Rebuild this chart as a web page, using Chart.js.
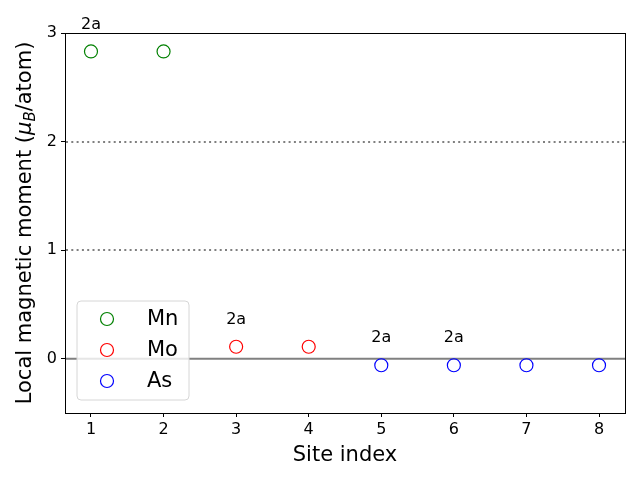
<!DOCTYPE html>
<html>
<head>
<meta charset="utf-8">
<script src="https://cdn.jsdelivr.net/npm/chart.js@4/dist/chart.umd.min.js"></script>
<style>
  html, body { margin: 0; padding: 0; background: #fff; }
  #wrap { width: 640px; height: 480px; }
</style>
</head>
<body>
<div id="wrap"><canvas id="chart" width="640" height="480"></canvas></div>
<script>
// site data
const siteIndex = [1, 2, 3, 4, 5, 6, 7, 8];
const moments = [2.83, 2.83, 0.11, 0.11, -0.06, -0.06, -0.06, -0.06];
const siteLabels = ["2a", "", "2a", "", "2a", "2a", "", ""];
const elements = ["Mn", "Mo", "As"];
const elementSites = [[1, 2], [3, 4], [5, 6, 7, 8]];
const elementColors = ["green", "red", "blue"];
const xTicks = [1, 2, 3, 4, 5, 6, 7, 8];
const yTicks = [0, 1, 2, 3];
const dottedLines = [1, 2];
const zeroLine = [0];

const FONT = "'DejaVu Sans', sans-serif";

const datasets = elements.map((el, i) => ({
  label: el,
  data: elementSites[i].map((s) => ({ x: s, y: moments[siteIndex.indexOf(s)] })),
  borderColor: elementColors[i],
  backgroundColor: "rgba(0,0,0,0)",
  pointRadius: 6.5,
  pointHoverRadius: 6.5,
  pointBorderWidth: 1.2,
  showLine: false,
}));

const extras = {
  id: "extras",
  beforeDatasetsDraw(chart) {
    const { ctx, chartArea: a, scales } = chart;
    ctx.save();
    ctx.strokeStyle = "gray";
    ctx.lineWidth = 2;
    ctx.setLineDash([2, 3.3]);
    dottedLines.forEach((v) => {
      const y = Math.round(scales.y.getPixelForValue(v));
      ctx.beginPath(); ctx.moveTo(a.left + 1, y); ctx.lineTo(a.right, y); ctx.stroke();
    });
    ctx.setLineDash([]);
    ctx.lineWidth = 2;
    zeroLine.forEach((v) => {
      const y = scales.y.getPixelForValue(v);
      ctx.beginPath(); ctx.moveTo(a.left, y); ctx.lineTo(a.right, y); ctx.stroke();
    });
    ctx.restore();
  },
  afterDatasetsDraw(chart) {
    const { ctx, chartArea: a, scales } = chart;
    ctx.save();
    // frame
    ctx.strokeStyle = "#000";
    ctx.lineWidth = 1;
    ctx.strokeRect(Math.round(a.left) + 0.5, Math.round(a.top) + 0.5,
      Math.round(a.right - a.left), Math.round(a.bottom - a.top));

    // site labels
    ctx.fillStyle = "#000";
    ctx.font = "16px " + FONT;
    ctx.textAlign = "center";
    ctx.textBaseline = "middle";
    siteLabels.forEach((t, i) => {
      if (!t) return;
      const x = scales.x.getPixelForValue(siteIndex[i]);
      const y = scales.y.getPixelForValue(moments[i]) - 27;
      ctx.fillText(t, x, y);
    });

    // legend box
    const lx = 77, ly = 301, lw = 112, lh = 99, r = 4;
    ctx.beginPath();
    ctx.moveTo(lx + r, ly);
    ctx.arcTo(lx + lw, ly, lx + lw, ly + lh, r);
    ctx.arcTo(lx + lw, ly + lh, lx, ly + lh, r);
    ctx.arcTo(lx, ly + lh, lx, ly, r);
    ctx.arcTo(lx, ly, lx + lw, ly, r);
    ctx.closePath();
    ctx.fillStyle = "rgba(255,255,255,0.8)";
    ctx.fill();
    ctx.strokeStyle = "#d6d6d6";
    ctx.lineWidth = 1;
    ctx.stroke();
    ctx.font = "21px " + FONT;
    ctx.textAlign = "left";
    elements.forEach((el, i) => {
      const cy = 319 + i * 31;
      ctx.beginPath();
      ctx.arc(107, cy, 6.5, 0, Math.PI * 2);
      ctx.strokeStyle = elementColors[i];
      ctx.lineWidth = 1.2;
      ctx.stroke();
      ctx.fillStyle = "#000";
      ctx.fillText(el, 147, cy + 1);
    });

    // y axis title with subscript
    const cx = 26, cyMid = (a.top + a.bottom) / 2;
    ctx.translate(cx, cyMid);
    ctx.rotate(-Math.PI / 2);
    const parts = [
      { t: "Local magnetic moment (", f: "21px " + FONT, dy: 0 },
      { t: "\u03bc", f: "italic 21px " + FONT, dy: 0 },
      { t: "B", f: "italic 15px " + FONT, dy: 5 },
      { t: "/atom)", f: "21px " + FONT, dy: 0 },
    ];
    let total = 0;
    parts.forEach((p) => { ctx.font = p.f; p.w = ctx.measureText(p.t).width; total += p.w; });
    let x = -total / 2;
    ctx.fillStyle = "#000";
    ctx.textBaseline = "middle";
    parts.forEach((p) => {
      ctx.font = p.f;
      ctx.fillText(p.t, x, p.dy);
      x += p.w;
    });
    ctx.restore();
  },
};

new Chart(document.getElementById("chart"), {
  type: "scatter",
  data: { datasets },
  plugins: [extras],
  options: {
    responsive: false,
    animation: false,
    events: [],
    layout: { padding: { top: 33, right: 15, left: 0, bottom: 0 } },
    plugins: { legend: { display: false }, tooltip: { enabled: false } },
    scales: {
      x: {
        type: "linear",
        min: 0.642,
        max: 8.358,
        afterBuildTicks: (s) => { s.ticks = xTicks.map((v) => ({ value: v })); },
        afterFit: (s) => { s.height = 67; },
        grid: { drawOnChartArea: false, drawTicks: true, tickLength: 4, tickColor: "#000" },
        border: { display: true, color: "#000" },
        ticks: { color: "#000", font: { family: FONT, size: 16 }, padding: 3, maxRotation: 0 },
        title: { display: true, text: "Site index", color: "#000", font: { family: FONT, size: 21 }, padding: { top: 0, bottom: 12 } },
      },
      y: {
        type: "linear",
        min: -0.5,
        max: 3,
        afterBuildTicks: (s) => { s.ticks = yTicks.map((v) => ({ value: v })); },
        afterFit: (s) => { s.width = 65; },
        grid: { drawOnChartArea: false, drawTicks: true, tickLength: 4, tickColor: "#000" },
        border: { display: true, color: "#000" },
        ticks: { color: "#000", font: { family: FONT, size: 16 }, padding: 4 },
      },
    },
  },
});
</script>
</body>
</html>
